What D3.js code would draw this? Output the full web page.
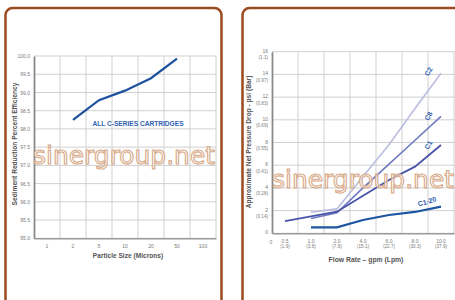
<!DOCTYPE html>
<html>
<head>
<meta charset="utf-8">
<script src="https://cdn.jsdelivr.net/npm/d3@7"></script>
<style>
html,body{margin:0;padding:0;background:#fff;}
svg{display:block;}
</style>
</head>
<body>
<script>
// ---------- Data: left chart ----------
const particleSizes = ["1","2","5","10","20","50","100"];
const effSizes = ["2","5","10","20","50"];
const effValues = [98.25, 98.79, 99.05, 99.39, 99.93];
const effTicks = [95.0,95.5,96.0,96.5,97.0,97.5,98.0,98.5,99.0,99.5,100.0];

// ---------- Data: right chart ----------
const flowRates = ["0.5","1.0","2.0","4.0","6.0","8.0","10.0"];
const flowLpm = ["(1.9)","(3.8)","(7.6)","(15.1)","(22.7)","(30.3)","(37.9)"];
const psiTicks = [0,2,4,6,8,10,12,14,16];
const barTicks = ["","(0.14)","(0.28)","(0.41)","(0.55)","(0.69)","(0.83)","(0.97)","(1.1)"];
const c2Flows = ["1.0","2.0","4.0","6.0","8.0","10.0"];
const c2Values = [1.85, 2.15, 5.0, 7.8, 11.0, 14.1];
const c8Flows = ["1.0","2.0","4.0","6.0","8.0","10.0"];
const c8Values = [1.3, 1.8, 4.0, 6.1, 8.2, 10.3];
const c1Flows = ["0.5","1.0","2.0","4.0","6.0","8.0","10.0"];
const c1Values = [1.08, 1.5, 1.9, 3.3, 4.7, 5.87, 7.78];
const c120Flows = ["1.0","2.0","4.0","6.0","8.0","10.0"];
const c120Values = [0.53, 0.53, 1.17, 1.61, 1.88, 2.35];

const W = 455, H = 300;
const svg = d3.select("body").append("svg").attr("width", W).attr("height", H);
const font = "'Liberation Sans', Arial, sans-serif";
const brown = "#9c4b1e";
const gridC = "#d0d0d0";
const tickC = "#7a7a7a";
const titleC = "#555";
const blueLbl = "#2f62b3";

// panels
svg.append("rect").attr("x", 5.5).attr("y", 8).attr("width", 216).attr("height", 300)
  .attr("rx", 7).attr("fill", "#fff").attr("stroke", brown).attr("stroke-width", 2.5);
svg.append("rect").attr("x", 242.5).attr("y", 8).attr("width", 230).attr("height", 300)
  .attr("rx", 7).attr("fill", "#fff").attr("stroke", brown).attr("stroke-width", 2.5);

// ================= LEFT CHART =================
const xL = d3.scaleBand().domain(particleSizes).range([34, 216]).padding(0);
const yL = d3.scaleLinear().domain([95, 100]).range([238.3, 56]);
const gL = svg.append("g");

// grid
gL.selectAll(".hg").data(effTicks).join("line")
  .attr("x1", 34).attr("x2", 216).attr("y1", d => yL(d)).attr("y2", d => yL(d))
  .attr("stroke", gridC).attr("stroke-width", 1);
gL.selectAll(".vg").data(particleSizes).join("line")
  .attr("x1", d => xL(d) + xL.bandwidth()).attr("x2", d => xL(d) + xL.bandwidth())
  .attr("y1", yL(100)).attr("y2", yL(95))
  .attr("stroke", gridC).attr("stroke-width", 1);

// axes
const axL = d3.axisLeft(yL).tickValues(effTicks).tickFormat(d3.format(".1f")).tickSize(0).tickPadding(4);
const gAxL = gL.append("g").attr("transform", "translate(34,0)").call(axL);
gAxL.select(".domain").attr("stroke", "#8a8a8a").attr("stroke-width", 1.8);
gAxL.selectAll("text").attr("font-family", font).attr("font-size", 5).attr("fill", tickC);
const axLB = d3.axisBottom(xL).tickSize(0).tickPadding(6);
const gAxLB = gL.append("g").attr("transform", `translate(0,${yL(95)})`).call(axLB);
gAxLB.select(".domain").attr("stroke", "#9a9a9a").attr("stroke-width", 1.5);
gAxLB.selectAll("text").attr("font-family", font).attr("font-size", 5).attr("fill", tickC);

// line
const lineL = d3.line().x((d, i) => xL(effSizes[i]) + xL.bandwidth() / 2).y(d => yL(d));
gL.append("path").datum(effValues).attr("d", lineL)
  .attr("fill", "none").attr("stroke", "#1f519f").attr("stroke-width", 2.2);

gL.append("text").attr("x", 138).attr("y", 125.5).attr("text-anchor", "middle")
  .attr("font-family", font).attr("font-weight", "bold").attr("font-size", 6.6)
  .attr("fill", blueLbl).text("ALL C-SERIES CARTRIDGES");

gL.append("text").attr("x", 128).attr("y", 257.5).attr("text-anchor", "middle")
  .attr("font-family", font).attr("font-weight", "bold").attr("font-size", 6.6)
  .attr("fill", titleC).text("Particle Size (Microns)");
gL.append("text").attr("transform", "translate(17,144) rotate(-90)").attr("text-anchor", "middle")
  .attr("font-family", font).attr("font-weight", "bold").attr("font-size", 6.6)
  .attr("fill", titleC).text("Sediment Reduction Percent Efficiency");

// ================= RIGHT CHART =================
const xR = d3.scaleBand().domain(flowRates).range([272, 454]).padding(0);
const yR = d3.scaleLinear().domain([0, 16]).range([233.3, 51.7]);
const gR = svg.append("g");

gR.selectAll(".hg").data(psiTicks).join("line")
  .attr("x1", 272).attr("x2", 455).attr("y1", d => yR(d)).attr("y2", d => yR(d))
  .attr("stroke", gridC).attr("stroke-width", 1);
gR.selectAll(".vg").data(flowRates).join("line")
  .attr("x1", d => xR(d) + xR.bandwidth()).attr("x2", d => xR(d) + xR.bandwidth())
  .attr("y1", yR(16)).attr("y2", yR(0))
  .attr("stroke", gridC).attr("stroke-width", 1);

// y axis
const axR = d3.axisLeft(yR).tickValues(psiTicks).tickFormat(d3.format("d")).tickSize(0).tickPadding(4);
const gAxR = gR.append("g").attr("transform", "translate(272,0)").call(axR);
gAxR.select(".domain").attr("stroke", "#8a8a8a").attr("stroke-width", 1.8);
gAxR.selectAll("text").attr("font-family", font).attr("font-size", 5).attr("fill", tickC)
  .attr("dy", "0.1em");
gAxR.selectAll(".tick").append("text")
  .attr("x", -4).attr("y", 7).attr("text-anchor", "end")
  .attr("font-family", font).attr("font-size", 4.6).attr("fill", tickC)
  .text((d, i) => barTicks[i]);

// x axis
const axRB = d3.axisBottom(xR).tickSize(0).tickPadding(6);
const gAxRB = gR.append("g").attr("transform", `translate(0,${yR(0)})`).call(axRB);
gAxRB.select(".domain").attr("stroke", "#9a9a9a").attr("stroke-width", 1.5);
gAxRB.selectAll("text").attr("font-family", font).attr("font-size", 5).attr("fill", tickC);
gAxRB.selectAll(".tick").append("text")
  .attr("y", 15).attr("text-anchor", "middle")
  .attr("font-family", font).attr("font-size", 4.6).attr("fill", tickC)
  .text((d, i) => flowLpm[i]);
gR.append("text").attr("x", 271).attr("y", yR(0) + 11).attr("text-anchor", "middle")
  .attr("font-family", font).attr("font-size", 5).attr("fill", tickC).text("0");

// lines
const cx = f => xR(f) + xR.bandwidth() / 2;
const series = [
  {f: c2Flows, v: c2Values, c: "#bbbde0", w: 1.6},
  {f: c8Flows, v: c8Values, c: "#7079c2", w: 1.6},
  {f: c1Flows, v: c1Values, c: "#4854a8", w: 1.8},
  {f: c120Flows, v: c120Values, c: "#1d55a2", w: 2.2}
];
series.forEach(s => {
  const ln = d3.line().x((d, i) => cx(s.f[i])).y(d => yR(d));
  gR.append("path").datum(s.v).attr("d", ln)
    .attr("fill", "none").attr("stroke", s.c).attr("stroke-width", s.w);
});

// series labels
const lbl = (t, x, y, r) => gR.append("text")
  .attr("transform", `translate(${x},${y}) rotate(${r})`).attr("text-anchor", "middle")
  .attr("dominant-baseline", "central")
  .attr("font-family", font).attr("font-weight", "bold").attr("font-size", 7)
  .attr("fill", blueLbl).text(t);
lbl("C2", 428.5, 71.5, -62);
lbl("C8", 428.5, 116, -62);
lbl("C1", 428.5, 145, -62);
lbl("C1-20", 427, 201.5, -16);

gR.append("text").attr("x", 366).attr("y", 261.5).attr("text-anchor", "middle")
  .attr("font-family", font).attr("font-weight", "bold").attr("font-size", 6.8)
  .attr("fill", titleC).text("Flow Rate \u2013 gpm (Lpm)");
gR.append("text").attr("transform", "translate(251,142) rotate(-90)").attr("text-anchor", "middle")
  .attr("font-family", font).attr("font-weight", "bold").attr("font-size", 6.6)
  .attr("fill", titleC).text("Approximate Net Pressure Drop - psi (Bar)");

// watermarks
const wm = (x, y) => svg.append("text").attr("x", x).attr("y", y)
  .attr("textLength", 182).attr("lengthAdjust", "spacingAndGlyphs")
  .attr("font-family", "'DejaVu Sans', sans-serif").attr("font-size", 25)
  .attr("fill", "rgba(255,255,255,0.6)").attr("stroke", "#d7a987").attr("stroke-width", 1.1)
  .text("sinergroup.net");
wm(33, 164);
wm(272, 188);
</script>
</body>
</html>
